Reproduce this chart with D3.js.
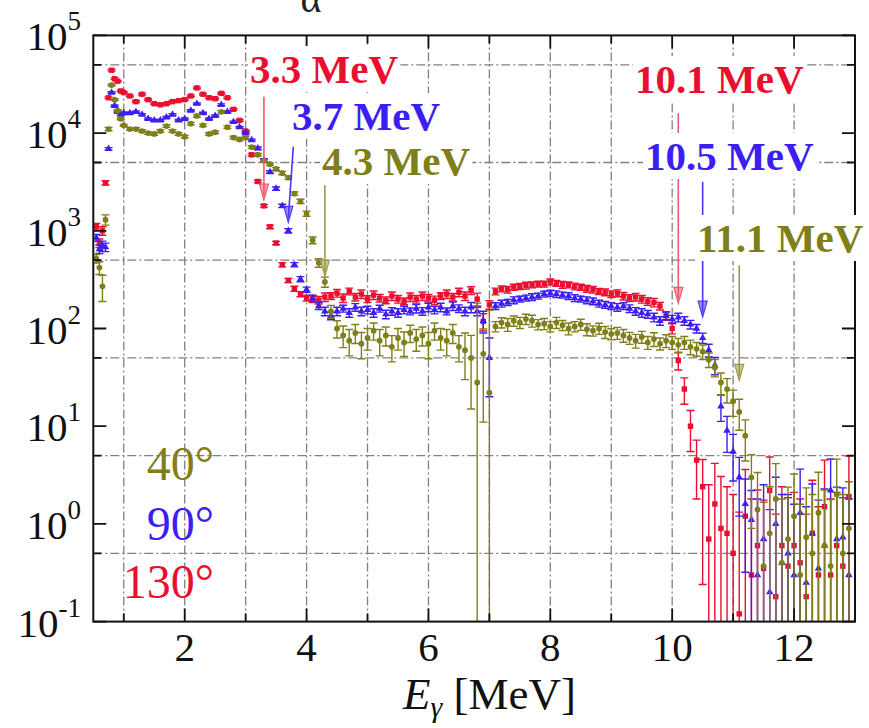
<!DOCTYPE html>
<html>
<head>
<meta charset="utf-8">
<script src="https://cdn.jsdelivr.net/npm/d3@7"></script>
<style>
  body { margin: 0; background: #fff; }
  svg { display: block; }
  text { font-family: "Liberation Serif", "DejaVu Serif", serif; }
</style>
</head>
<body>
<svg id="chart" width="869" height="728"></svg>
<script>
// Gamma-ray energy bins [MeV] (finer below 1 MeV)
const energies = [
  0.55,0.6,0.65,0.7,0.75,0.8,0.85,0.9,0.95,1.0,
  1.1,1.2,1.3,1.4,1.5,1.6,1.7,1.8,1.9,2.0,
  2.1,2.2,2.3,2.4,2.5,2.6,2.7,2.8,2.9,3.0,
  3.1,3.2,3.3,3.4,3.5,3.6,3.7,3.8,3.9,4.0,
  4.1,4.2,4.3,4.4,4.5,4.6,4.7,4.8,4.9,5.0,
  5.1,5.2,5.3,5.4,5.5,5.6,5.7,5.8,5.9,6.0,
  6.1,6.2,6.3,6.4,6.5,6.6,6.7,6.8,6.9,7.0,
  7.1,7.2,7.3,7.4,7.5,7.6,7.7,7.8,7.9,8.0,
  8.1,8.2,8.3,8.4,8.5,8.6,8.7,8.8,8.9,9.0,
  9.1,9.2,9.3,9.4,9.5,9.6,9.7,9.8,9.9,10.0,
  10.1,10.2,10.3,10.4,10.5,10.6,10.7,10.8,10.9,11.0,
  11.1,11.2,11.3,11.4,11.5,11.6,11.7,11.8,11.9,12.0,
  12.1,12.2,12.3,12.4,12.5,12.6,12.7,12.8,12.9
];

// Counts at 130 degrees, with relative uncertainties
const counts130 = [
  1100,750,1000,3100,23000,44000,36000,34000,27000,26000,
  24000,21000,25000,22000,20000,19500,20000,21000,21500,22000,
  24000,29000,25000,23000,22500,25500,23000,17500,13500,10500,
  6000,3200,1800,1100,750,450,310,255,225,205,
  200,195,210,215,230,205,240,210,225,200,
  220,205,195,215,200,190,210,200,215,205,
  195,215,225,210,235,215,245,200,118,175,
  240,255,250,265,270,275,280,285,285,300,
  290,280,280,270,265,255,250,240,235,225,
  230,215,205,210,200,190,185,170,135,100,
  47,24,10,4.5,2.4,0.7,1.6,0.9,0.8,0.5,
  0.12,1.2,0.3,0.6,0.35,2.2,0.18,0.6,0.37,0.6,
  0.4,0.18,0.8,0.3,1.5,0.3,0.6,0.37,1.9
];
const relErr130 = [
  0.08,0.1,0.1,0.05,0.02,0.02,0.02,0.02,0.02,0.02,
  0.02,0.02,0.02,0.02,0.02,0.02,0.02,0.02,0.02,0.02,
  0.02,0.02,0.02,0.02,0.02,0.02,0.02,0.02,0.02,0.02,
  0.03,0.03,0.03,0.04,0.04,0.05,0.05,0.06,0.06,0.07,
  0.08,0.09,0.1,0.08,0.09,0.1,0.08,0.09,0.1,0.08,
  0.1,0.09,0.08,0.1,0.09,0.08,0.1,0.09,0.1,0.09,
  0.1,0.08,0.1,0.09,0.1,0.1,0.09,0.15,0.2,0.1,
  0.08,0.07,0.08,0.07,0.07,0.08,0.07,0.07,0.07,0.07,
  0.07,0.08,0.07,0.08,0.07,0.08,0.08,0.07,0.08,0.08,
  0.08,0.09,0.08,0.09,0.09,0.09,0.1,0.09,0.1,0.12,
  0.2,0.3,0.45,0.6,0.9,2.6,1.6,2.4,2,3,
  10,2,5,2.7,4,1.2,6,3,4,2.5,
  3.5,6,2.5,4,2,5,2.5,4,1.6
];

// Counts at 90 degrees
const counts90 = [
  850,650,700,680,6900,26000,19000,16500,15500,16000,
  16000,16500,15500,14000,13500,13500,14500,15500,13500,14000,
  17000,20000,16000,14000,15000,19500,16500,13000,11500,10000,
  8500,7000,5300,4000,2700,1800,1000,450,320,250,
  205,170,150,135,150,160,145,165,150,155,
  145,160,140,150,145,155,150,160,150,165,
  155,165,150,170,160,150,165,150,120,50,
  170,180,185,195,200,205,210,215,225,230,
  225,220,215,205,200,195,190,180,175,170,
  165,170,160,150,145,140,130,120,135,125,
  130,120,110,100,80,60,42,16,9,5.5,
  3,1.6,1.1,0.3,0.7,0.2,1.0,0.4,0.5,0.3,
  1.3,0.25,0.8,0.35,0.6,2.2,0.7,0.73,0.3
];
const relErr90 = [
  0.08,0.1,0.12,0.1,0.03,0.02,0.02,0.02,0.02,0.02,
  0.02,0.02,0.02,0.02,0.02,0.02,0.02,0.02,0.02,0.02,
  0.02,0.02,0.02,0.02,0.02,0.02,0.02,0.02,0.02,0.02,
  0.02,0.03,0.03,0.03,0.04,0.04,0.05,0.05,0.06,0.06,
  0.07,0.08,0.1,0.09,0.1,0.08,0.1,0.09,0.1,0.09,
  0.1,0.08,0.1,0.09,0.1,0.09,0.08,0.1,0.09,0.1,
  0.09,0.1,0.08,0.1,0.09,0.1,0.12,0.1,0.25,0.6,
  0.08,0.08,0.07,0.08,0.07,0.07,0.08,0.07,0.07,0.07,
  0.08,0.07,0.08,0.08,0.07,0.08,0.08,0.08,0.08,0.08,
  0.09,0.08,0.09,0.09,0.1,0.09,0.1,0.1,0.09,0.09,
  0.1,0.1,0.1,0.1,0.12,0.15,0.2,0.3,0.4,0.5,
  0.6,0.8,1.0,5,2.6,6,2,4,3,4.3,
  1.8,5,2.2,4,2.8,1.1,2.4,2.2,5
];

// Counts at 40 degrees
const counts40 = [
  520,420,270,1300,11000,31000,22000,17000,14000,12000,
  11000,11000,10500,10000,9800,10500,11800,10500,9800,9200,
  12500,15000,12000,9800,10200,16500,11500,9000,8600,9000,
  7200,6000,5200,4800,4300,3900,3500,2400,2000,1500,
  800,470,300,150,100,85,75,90,70,80,
  95,75,85,65,80,72,90,78,85,70,
  95,80,75,90,65,60,50,28,55,22,
  105,115,110,120,115,125,120,110,112,105,
  115,108,100,105,110,98,95,100,92,88,
  90,85,80,75,82,72,78,70,75,72,
  68,72,65,62,58,48,40,28,24,18,
  14,8,3,1.4,0.37,0.8,1.8,0.4,0.7,1.2,
  0.3,0.73,0.5,1.3,0.6,0.37,2.0,0.5,0.9
];
const relErr40 = [
  0.1,0.15,0.3,0.12,0.04,0.02,0.02,0.02,0.02,0.02,
  0.03,0.03,0.03,0.03,0.03,0.03,0.03,0.03,0.03,0.03,
  0.03,0.03,0.03,0.03,0.03,0.03,0.03,0.03,0.03,0.03,
  0.03,0.03,0.03,0.03,0.03,0.04,0.04,0.04,0.05,0.06,
  0.08,0.1,0.12,0.15,0.2,0.25,0.3,0.22,0.3,0.25,
  0.2,0.3,0.22,0.3,0.25,0.28,0.2,0.25,0.22,0.3,
  0.2,0.25,0.3,0.22,0.3,0.5,0.7,5.5,0.8,6,
  0.12,0.12,0.15,0.12,0.13,0.12,0.14,0.12,0.13,0.12,
  0.13,0.12,0.14,0.12,0.13,0.14,0.12,0.13,0.14,0.13,
  0.14,0.15,0.14,0.16,0.14,0.15,0.16,0.14,0.15,0.15,
  0.16,0.15,0.17,0.16,0.17,0.17,0.2,0.25,0.28,0.3,
  0.35,0.45,0.7,1.4,3.5,2,1.3,3.5,2.4,1.7,
  4.3,2.2,3,1.6,2.7,3.8,1.3,3,2
];

// Spectral edges marked with arrows: energy [MeV], arrow start and tip in counts
const edgeLabels   = ["3.3 MeV", "3.7 MeV", "4.3 MeV", "10.1 MeV", "10.5 MeV", "11.1 MeV"];
const edgeEnergies = [3.3, 3.7, 4.3, 10.1, 10.5, 11.1];
const edgeTop      = [23500, 7250, 2930, 16000, 3170, 444];
const edgeTip      = [2060, 1220, 343, 181, 131, 29.5];
const edgeSeries   = ["130", "90", "40", "130", "90", "40"];

const angleLabels = ["40°", "90°", "130°"];
const xTickLabels = [2, 4, 6, 8, 10, 12];
const yDecades = [-1, 0, 1, 2, 3, 4, 5];
const gridEnergies = [1,2,3,4,5,6,7,8,9,10,11,12];
const gridCounts = [0.5, 5, 50, 500, 5000, 50000];

// ---- styling ----
const colors = { "130": "#ea0f2f", "90": "#3c1ef5", "40": "#7f7f1a" };
const arrowColors = { "130": "#f05a70", "90": "#4a36f5", "40": "#9a9a4a" };
const labelLayout = [
  { x: 250, y: 83, lean: 0 },
  { x: 292, y: 130, lean: 5 },
  { x: 322, y: 175, lean: 0 },
  { x: 635, y: 93, lean: 0 },
  { x: 645, y: 170, lean: 0 },
  { x: 697, y: 252, lean: 0 }
];

const margin = { left: 93.3, right: 855, top: 35.4, bottom: 621.6 };
const x = d3.scaleLinear().domain([0.5, 13]).range([margin.left, margin.right]);
const y = d3.scaleLog().domain([0.1, 1e5]).range([margin.bottom, margin.top]);

const svg = d3.select("#chart");

svg.append("defs").append("clipPath").attr("id", "plotArea")
  .append("rect")
  .attr("x", margin.left).attr("y", margin.top)
  .attr("width", margin.right - margin.left)
  .attr("height", margin.bottom - margin.top);

// title fragment at the top edge
svg.append("text").attr("x", 311).attr("y", 12).attr("text-anchor", "middle")
  .attr("font-size", 40).attr("fill", "#222").text("α");

// ---- grid ----
const grid = svg.append("g")
  .attr("stroke", "#808080").attr("stroke-width", 1.3)
  .attr("stroke-dasharray", "9,3,2,3").attr("fill", "none");
grid.selectAll("line.gx").data(gridEnergies).join("line").attr("class", "gx")
  .attr("x1", d => x(d)).attr("x2", d => x(d))
  .attr("y1", margin.top).attr("y2", margin.bottom);
grid.selectAll("line.gy").data(gridCounts).join("line").attr("class", "gy")
  .attr("y1", d => y(d)).attr("y2", d => y(d))
  .attr("x1", margin.left).attr("x2", margin.right);

// ---- data ----
const plot = svg.append("g").attr("clip-path", "url(#plotArea)");

function drawSeries(values, relErr, key) {
  const color = colors[key];
  const pts = energies.map((e, i) => ({ e, v: values[i], d: values[i] * relErr[i] }));
  const g = plot.append("g");
  const cap = 4;
  g.selectAll("path.err").data(pts).join("path").attr("class", "err")
    .attr("fill", "none").attr("stroke", color).attr("stroke-width", 1.4)
    .attr("d", p => {
      const cx = x(p.e);
      const yt = y(p.v + p.d);
      const lo = p.v - p.d;
      let s = `M${cx},${yt}`;
      if (lo > 0.1) {
        const yb = y(lo);
        s += `V${yb}M${cx - cap},${yb}h${2 * cap}`;
      } else {
        s += `V${margin.bottom + 5}`;
      }
      s += `M${cx - cap},${yt}h${2 * cap}`;
      return s;
    });
  if (key === "130") {
    g.selectAll("rect").data(pts).join("rect")
      .attr("x", p => x(p.e) - 2.7).attr("y", p => y(p.v) - 2.7)
      .attr("width", 5.4).attr("height", 5.4).attr("fill", color);
  } else if (key === "90") {
    const tri = d3.symbol(d3.symbolTriangle, 24);
    g.selectAll("path.mk").data(pts).join("path").attr("class", "mk")
      .attr("transform", p => `translate(${x(p.e)},${y(p.v)})`)
      .attr("d", tri).attr("fill", color);
  } else {
    g.selectAll("circle").data(pts).join("circle")
      .attr("cx", p => x(p.e)).attr("cy", p => y(p.v)).attr("r", 2.9)
      .attr("fill", color);
  }
}
drawSeries(counts130, relErr130, "130");
drawSeries(counts90, relErr90, "90");
drawSeries(counts40, relErr40, "40");

// ---- frame and ticks ----
const frame = svg.append("g").attr("stroke", "#111").attr("fill", "none");
frame.append("rect")
  .attr("x", margin.left).attr("y", margin.top)
  .attr("width", margin.right - margin.left).attr("height", margin.bottom - margin.top)
  .attr("stroke-width", 2);
const tickPath = [];
gridEnergies.forEach(e => {
  const len = e % 2 === 0 ? 13 : 8;
  const px = x(e);
  tickPath.push(`M${px},${margin.bottom}v${-len}`, `M${px},${margin.top}v${len}`);
});
yDecades.forEach(k => {
  const py = y(Math.pow(10, k));
  tickPath.push(`M${margin.left},${py}h13`, `M${margin.right},${py}h-13`);
});
gridCounts.forEach(c => {
  const py = y(c);
  tickPath.push(`M${margin.left},${py}h8`, `M${margin.right},${py}h-8`);
});
frame.append("path").attr("d", tickPath.join("")).attr("stroke-width", 1.8);

// ---- axis labels ----
xTickLabels.forEach(v => {
  svg.append("text").attr("x", x(v)).attr("y", 661).attr("text-anchor", "middle")
    .attr("font-size", 41).attr("fill", "#111").text(v);
});
yDecades.forEach(k => {
  const t = svg.append("text").attr("x", 81).attr("y", y(Math.pow(10, k)) + 15)
    .attr("text-anchor", "end").attr("font-size", 41).attr("fill", "#111");
  t.append("tspan").text("10");
  t.append("tspan").attr("dy", -20).attr("font-size", 27).text(k < 0 ? "-" + Math.abs(k) : k);
});
const xl = svg.append("text").attr("x", 403).attr("y", 709).attr("font-size", 45).attr("fill", "#111");
xl.append("tspan").attr("font-style", "italic").text("E");
xl.append("tspan").attr("font-size", 30).attr("dy", 8).attr("font-style", "italic").text("γ");
xl.append("tspan").attr("dy", -8).text(" [MeV]");

// ---- angle labels ----
const angleKeys = ["40", "90", "130"];
const angleBaselines = [480, 540, 598];
angleLabels.forEach((s, i) => {
  svg.append("text").attr("x", 214).attr("y", angleBaselines[i]).attr("text-anchor", "end")
    .attr("font-size", 48).attr("fill", colors[angleKeys[i]]).text(s);
});

// ---- edge arrows ----
const arrows = svg.append("g");
edgeEnergies.forEach((e, i) => {
  const key = edgeSeries[i];
  const c = arrowColors[key];
  const tx = x(e), ty = y(edgeTip[i]);
  const topY = y(edgeTop[i]);
  const lean = labelLayout[i].lean;
  arrows.append("line")
    .attr("x1", tx + lean).attr("y1", topY).attr("x2", tx).attr("y2", ty - 4)
    .attr("stroke", c).attr("stroke-width", 1.6);
  arrows.append("path")
    .attr("d", `M${tx},${ty}L${tx - 4.5},${ty - 16}L${tx + 4.5},${ty - 16}Z`)
    .attr("fill", c).attr("fill-opacity", 0.55).attr("stroke", c).attr("stroke-width", 1.2);
});

// ---- edge labels on white boxes ----
const labels = svg.append("g");
edgeLabels.forEach((s, i) => {
  const L = labelLayout[i];
  const g = labels.append("g");
  const box = g.append("rect").attr("fill", "#fff");
  const t = g.append("text").attr("x", L.x).attr("y", L.y)
    .attr("font-size", 41).attr("font-weight", "bold")
    .attr("fill", colors[edgeSeries[i]]).text(s);
  const bb = t.node().getBBox();
  box.attr("x", bb.x - 2).attr("y", bb.y).attr("width", bb.width + 4).attr("height", bb.height);
});
</script>
</body>
</html>
